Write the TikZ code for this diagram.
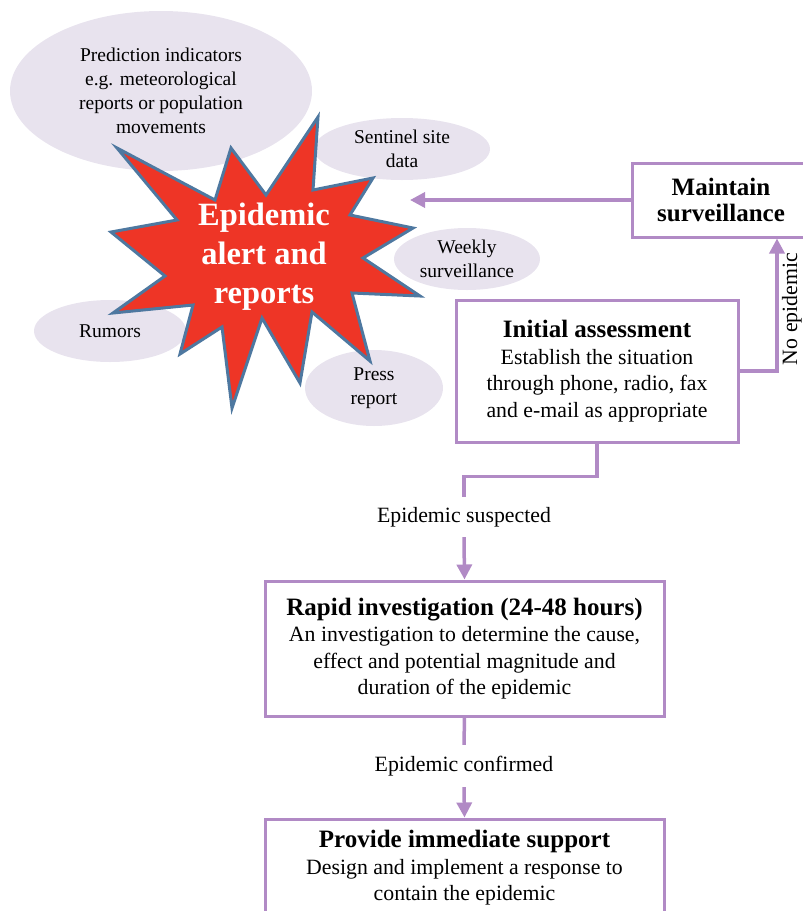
\documentclass[tikz,border=0pt]{standalone}
\usepackage{fontspec}
\setmainfont{Liberation Serif}
\usetikzlibrary{arrows.meta, shapes.geometric}
\definecolor{flowpurple}{HTML}{B18AC5}
\definecolor{bubblefill}{HTML}{E8E3EE}
\definecolor{alertred}{HTML}{EE3526}
\definecolor{alertedge}{HTML}{4E78A0}
\newcommand{\boxhead}{\bfseries\fontsize{25}{27}\selectfont}
\newcommand{\boxbody}{\fontsize{21.8}{26.5}\selectfont}
\newcommand{\bubblefont}{\fontsize{19.5}{23.8}\selectfont}

\begin{document}
\begin{tikzpicture}[
  x=1pt, y=-1pt,
  >={Triangle[length=15pt, width=15pt]},
  bubble/.style={ellipse, fill=bubblefill, inner sep=0pt, align=center, font=\bubblefont},
  stepbox/.style={draw=flowpurple, line width=3pt, fill=white, inner sep=0pt, align=center, font=\boxbody},
  flow/.style={draw=flowpurple, line width=3.5pt},
  lbl/.style={inner sep=0pt, font=\boxbody},
  ]
  \useasboundingbox (0,0) rectangle (803,911);
  \clip (0,0) rectangle (803,911);

  % bubbles feeding the alert
  \node[bubble, minimum width=302pt, minimum height=160pt] (pred) at (161,91)
    {Prediction indicators\\e.g. meteorological\\reports or population\\movements};
  \node[bubble, minimum width=176pt, minimum height=62pt] (sentinel) at (402,149) {Sentinel site\\data};
  \node[bubble, minimum width=146pt, minimum height=62pt] (weekly) at (467,259) {Weekly\\surveillance};
  \node[bubble, minimum width=152pt, minimum height=62pt] (rumors) at (110,331) {Rumors};
  \node[bubble, minimum width=138pt, minimum height=76pt] (press) at (374,388) {Press\\report};

  % the alert star
  \draw[fill=alertred, draw=alertedge, line width=3pt, line join=miter]
    (117,148) -- (215,200) -- (231,148) -- (266,195) -- (318,117) -- (313,190)
    -- (373,178) -- (350,215) -- (413,228) -- (363,258) -- (420,296) -- (352,293)
    -- (370,361) -- (312,312) -- (300,383) -- (262,318) -- (232,408) -- (222,327)
    -- (180,354) -- (193,305) -- (113,313) -- (165,276) -- (111,232) -- (177,220)
    -- cycle;
  \node[align=center, text=white, font=\bfseries\fontsize{32.5}{39}\selectfont] (alert) at (264,257)
    {Epidemic\\alert and\\reports};
  \coordinate (alerttip) at (410,200);

  % steps
  \node[stepbox, minimum width=178pt, minimum height=74pt] (maintain) at (721,200)
    {\boxhead Maintain\\\boxhead surveillance};
  \node[stepbox, minimum width=282pt, minimum height=142pt] (initial) at (597,371)
    {{\boxhead Initial assessment}\\Establish the situation\\through phone, radio, fax\\and e-mail as appropriate};
  \node[stepbox, minimum width=399pt, minimum height=135pt] (rapid) at (464.5,648.5)
    {{\boxhead Rapid investigation (24-48 hours)}\\An investigation to determine the cause,\\effect and potential magnitude and\\duration of the epidemic};
  \node[stepbox, minimum width=399pt, minimum height=98pt] (support) at (464.5,868)
    {{\boxhead Provide immediate support}\\Design and implement a response to\\contain the epidemic};

  % labels on the flow
  \node[lbl, minimum height=40pt] (suspected) at (464,517) {Epidemic suspected};
  \node[lbl, minimum height=42pt] (confirmed) at (464,766) {Epidemic confirmed};
  \node[lbl, rotate=90] (noepi) at (792,309) {No epidemic};

  % connectors
  \draw[flow, ->] (maintain.west) -- (alerttip);
  \draw[flow, ->] (initial.east) -| ([xshift=56pt]maintain.south);
  \draw[flow] (initial.south) -- ++(0,33) -| (suspected.north);
  \draw[flow, ->] (suspected.south) -- (rapid.north);
  \draw[flow] (rapid.south) -- (confirmed.north);
  \draw[flow, ->] (confirmed.south) -- (support.north);
\end{tikzpicture}
\end{document}
